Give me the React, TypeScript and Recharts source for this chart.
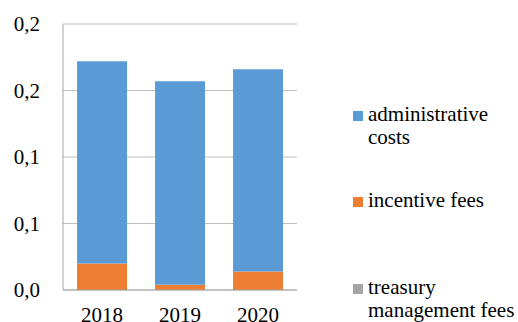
import React from 'react';
import { BarChart, Bar, XAxis, YAxis, CartesianGrid, Legend } from 'recharts';

const years = ['2018', '2019', '2020'];
const administrativeCosts = [0.152, 0.153, 0.152];
const incentiveFees = [0.020, 0.004, 0.014];
const treasuryManagementFees = [0, 0, 0];
const yTicks = [0, 0.05, 0.1, 0.15, 0.2];
const yTickLabels = ['0,0', '0,1', '0,1', '0,2', '0,2'];

const legendItems = [
  { lines: ['administrative', 'costs'], color: '#5B9BD5', top: 103 },
  { lines: ['incentive fees'], color: '#ED7D31', top: 189 },
  { lines: ['treasury', 'management fees'], color: '#A5A5A5', top: 276 },
];

const data = years.map((y, i) => ({
  year: y,
  treasury: treasuryManagementFees[i],
  incentive: incentiveFees[i],
  admin: administrativeCosts[i],
}));

const FONT = "Liberation Serif, Tinos, Times New Roman, Times, DejaVu Serif, serif";

const LegendContent = () => (
  <div style={{ position: 'relative', width: 518, height: 322 }}>
    {legendItems.map((it) => (
      <div
        key={it.lines[0]}
        style={{
          position: 'absolute',
          left: 353,
          top: it.top,
          fontFamily: FONT,
          fontSize: 21,
          lineHeight: '23px',
          color: '#000',
          whiteSpace: 'nowrap',
        }}
      >
        <span
          style={{
            position: 'absolute',
            left: 0,
            top: 8,
            width: 10,
            height: 10,
            background: it.color,
          }}
        />
        <div style={{ marginLeft: 15 }}>
          {it.lines.map((l, j) => (
            <div key={j}>{l}</div>
          ))}
        </div>
      </div>
    ))}
  </div>
);

export default function App() {
  return (
    <div style={{ position: 'absolute', left: 0, top: 0, width: 518, height: 322, background: '#fff', fontFamily: FONT }}>
      <BarChart
        width={518}
        height={322}
        data={data}
        margin={{ top: 24, right: 221, bottom: 0, left: 0 }}
        barCategoryGap="18%"
        style={{ fontFamily: FONT }}
      >
        <CartesianGrid vertical={false} stroke="#BFBFBF" strokeWidth={1} />
        <XAxis
          dataKey="year"
          height={32}
          tickLine={false}
          tickSize={0}
          tickMargin={17}
          axisLine={{ stroke: '#A6A6A6' }}
          tick={{ fill: '#000', fontFamily: FONT, fontSize: 21 }}
        />
        <YAxis
          width={63}
          domain={[0, 0.2]}
          ticks={yTicks}
          interval={0}
          tickLine={false}
          tickSize={0}
          tickMargin={23}
          axisLine={{ stroke: '#A6A6A6' }}
          tickFormatter={(v: number) => yTickLabels[yTicks.indexOf(v)] ?? ''}
          tick={{ fill: '#000', fontFamily: FONT, fontSize: 21 }}
        />
        <Legend
          layout="vertical"
          align="center"
          verticalAlign="middle"
          wrapperStyle={{ left: 0, top: 0, width: 518, height: 322, pointerEvents: 'none' }}
          content={() => <LegendContent />}
        />
        <Bar dataKey="treasury" stackId="a" fill="#A5A5A5" isAnimationActive={false} />
        <Bar dataKey="incentive" stackId="a" fill="#ED7D31" isAnimationActive={false} />
        <Bar dataKey="admin" stackId="a" fill="#5B9BD5" isAnimationActive={false} />
      </BarChart>
    </div>
  );
}
